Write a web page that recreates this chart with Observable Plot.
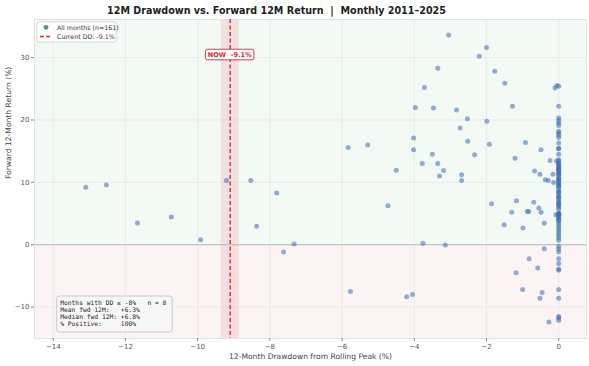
<!DOCTYPE html>
<html>
<head>
<meta charset="utf-8">
<script src="https://cdn.jsdelivr.net/npm/d3@7"></script>
<script src="https://cdn.jsdelivr.net/npm/@observablehq/plot@0.6"></script>
<style>
  html, body { margin: 0; padding: 0; background: #fff; }
  svg { font-family: "DejaVu Sans", sans-serif; }
</style>
</head>
<body>
<div id="chart"></div>
<script>
// ---- data ----
const offPeakDrawdown = [
  -13.10, -12.53, -11.67, -10.73, -9.92, -9.20, -8.53, -8.37, -7.81,
  -7.62, -7.33, -5.83, -5.29, -4.73, -4.50, -4.02, -4.02, -3.97, -5.77,
  -3.05, -2.00, -2.20, -1.77, -3.35, -1.49, -3.72, -3.47, -1.28, -2.83,
  -2.53, -1.99, -2.73, -2.52, -1.92, -0.92, -3.50, -2.33, -0.49, -3.78,
  -3.35, -3.19, -3.30, -2.69, -2.69, -1.21, -0.24, -0.67, -0.52, -0.16,
  -0.37, -0.29, -0.14,
  -1.86, -1.17, -0.69, -1.30, -0.87, -0.83, -0.55, -0.49, -1.51, -0.99,
  -0.40, -0.08, -3.76, -3.14, -0.40, -0.82, -0.58, -1.18, -1.00, -0.46,
  -0.52, -0.27, -4.21, -4.05,
  -0.05, -0.10, -0.06
];
const offPeakReturn = [
  9.2, 9.57, 3.47, 4.43, 0.80, 10.3, 10.27, 2.94, 8.28,
  -1.19, 0.1, 15.57, 16.0, 6.26, 11.93, 17.1, 15.2, 22.0, -7.5,
  33.6, 31.6, 30.2, 27.8, 28.3, 25.9, 25.2, 21.9, 22.2, 21.6,
  20.2, 19.8, 18.7, 16.6, 16.1, 16.4, 14.5, 14.4, 15.2, 13.0,
  13.0, 11.9, 11.0, 11.2, 10.3, 13.85, 13.5, 11.8, 11.3, 11.3,
  10.4, 10.3, 9.95,
  6.58, 7.06, 6.79, 5.18, 5.3, 5.3, 5.87, 5.18, 3.2, 2.66,
  3.42, 4.8, 0.21, -0.06, -0.64, -2.25, -3.75, -4.5, -7.2, -7.66,
  -8.6, -12.4, -8.35, -7.98,
  25.5, 25.1, 13.4
];
// months at the rolling peak (drawdown = 0)
const atPeakReturn = [
  25.4, 22.2, 20.3, 19.9, 19.5, 19.1, 18.2, 17.9, 17.6, 17.2, 16.3, 15.4, 15.4,
  14.5, 13.6, 13.4, 13.0, 13.0, 12.6, 12.6, 12.2, 12.2, 11.9, 11.9, 11.6,
  11.3, 11.3, 11.0, 10.6, 10.6, 10.3, 10.3, 9.9, 9.9, 9.5, 9.5, 9.2, 8.8,
  8.4, 8.4, 8.0, 7.6, 7.6, 7.3, 6.8, 6.8, 6.4, 6.4, 6.0, 5.7, 5.0, 5.0,
  4.9, 4.9, 4.7, 4.7, 4.3, 4.3, 3.9, 3.9, 3.5, 3.1, 2.7, 2.3, 1.9, 1.5,
  1.1, 0.7,
  -0.27, -0.7, -1.12, -2.25, -3.0, -3.9, -4.1, -7.2, -8.57, -11.5, -11.7, -12.1
];
const currentDD = -9.1;
const bandHalfWidth = 0.25;
const xTicks = [-14, -12, -10, -8, -6, -4, -2, 0];
const yTicks = [-10, 0, 10, 20, 30];
const titleText = "12M Drawdown vs. Forward 12M Return  |  Monthly 2011\u20132025";
const legendLabels = ["All months (n=161)", "Current DD: -9.1%"];
const statsLines = [
  "Months with DD \u2264 -8%   n = 8",
  "Mean fwd 12M:   +6.3%",
  "Median fwd 12M: +6.8%",
  "% Positive:     100%"
];

// ---- build table ----
const points = [
  ...offPeakDrawdown.map((d, i) => ({dd: d, fwd: offPeakReturn[i]})),
  ...atPeakReturn.map(r => ({dd: 0, fwd: r}))
];

const X_DOMAIN = [-14.52, 0.77];
const Y_DOMAIN = [-15.04, 36.1];
const RED = "#d62839";
const BLUE = "#3d6db0";

// legend box (pixel space, anchored to frame top-left)
function legendMark(index, scales, values, dims) {
  const g = d3.create("svg:g").attr("text-anchor", "start");
  const x0 = dims.marginLeft + 3, y0 = dims.marginTop + 3;
  g.append("rect").attr("x", x0).attr("y", y0).attr("width", 79).attr("height", 20)
    .attr("rx", 2).attr("fill", "white").attr("fill-opacity", 0.85)
    .attr("stroke", "#d0d0d0").attr("stroke-width", 0.8);
  g.append("circle").attr("cx", x0 + 9).attr("cy", y0 + 5.3).attr("r", 2.4)
    .attr("fill", BLUE).attr("fill-opacity", 0.85);
  g.append("line").attr("x1", x0 + 3).attr("x2", x0 + 15).attr("y1", y0 + 14.5).attr("y2", y0 + 14.5)
    .attr("stroke", RED).attr("stroke-width", 1.4).attr("stroke-dasharray", "4,2");
  legendLabels.forEach((t, i) => {
    g.append("text").attr("x", x0 + 20).attr("y", y0 + 5.3 + i * 9.2).attr("dy", "0.35em")
      .attr("text-anchor", "start")
      .attr("font-size", 6.3).attr("fill", "#333").text(t);
  });
  return g.node();
}

// stats box (pixel space, anchored to frame bottom-left)
function statsMark(index, scales, values, dims) {
  const g = d3.create("svg:g").attr("text-anchor", "start");
  const bottom = dims.height - dims.marginBottom;
  const x0 = dims.marginLeft + 22.7, y0 = bottom - 42;
  g.append("rect").attr("x", x0).attr("y", y0).attr("width", 115.5).attr("height", 36)
    .attr("rx", 3).attr("fill", "#f7f7f7").attr("fill-opacity", 0.9)
    .attr("stroke", "#bbbbbb").attr("stroke-width", 0.8);
  statsLines.forEach((t, i) => {
    g.append("text").attr("x", x0 + 3.5).attr("y", y0 + 6.8 + i * 7.0).attr("dy", "0.35em")
      .attr("text-anchor", "start")
      .attr("font-family", "'DejaVu Sans Mono', monospace").attr("font-size", 6.3)
      .attr("fill", "#222").attr("xml:space", "preserve").style("white-space", "pre").text(t);
  });
  return g.node();
}

// NOW label at the current drawdown
function nowMark(index, scales) {
  const g = d3.create("svg:g");
  const cx = scales.x(currentDD), cy = scales.y(30.4);
  g.append("rect").attr("x", cx - 24.2).attr("y", cy - 5.3).attr("width", 48.4).attr("height", 10.6)
    .attr("rx", 2).attr("fill", "white").attr("stroke", RED).attr("stroke-width", 0.9);
  g.append("text").attr("x", cx).attr("y", cy).attr("dy", "0.35em").attr("text-anchor", "middle")
    .attr("font-size", 6.6).attr("font-weight", "bold").attr("fill", RED)
    .attr("xml:space", "preserve").style("white-space", "pre").text("NOW  -9.1%");
  return g.node();
}

const chart = Plot.plot({
  width: 589,
  height: 366,
  marginLeft: 34,
  marginRight: 3,
  marginTop: 19,
  marginBottom: 28,
  style: {fontFamily: "DejaVu Sans, sans-serif", background: "white", overflow: "visible"},
  x: {domain: X_DOMAIN, ticks: xTicks, label: null},
  y: {domain: Y_DOMAIN, ticks: yTicks, label: null},
  marks: [
    // background regions
    Plot.rect([{y1: 0, y2: Y_DOMAIN[1]}], {x1: X_DOMAIN[0], x2: X_DOMAIN[1], y1: "y1", y2: "y2", fill: "#f3f9f4"}),
    Plot.rect([{y1: Y_DOMAIN[0], y2: 0}], {x1: X_DOMAIN[0], x2: X_DOMAIN[1], y1: "y1", y2: "y2", fill: "#fcf4f4"}),
    // grid
    Plot.gridX(xTicks, {stroke: "#e4e8e4", strokeOpacity: 1, strokeWidth: 0.8}),
    Plot.gridY(yTicks, {stroke: "#e4e8e4", strokeOpacity: 1, strokeWidth: 0.8}),
    // current drawdown band
    Plot.rect([currentDD], {x1: d => d - bandHalfWidth, x2: d => d + bandHalfWidth, y1: Y_DOMAIN[0], y2: Y_DOMAIN[1], fill: "#eba9b0", fillOpacity: 0.3}),
    // zero line
    Plot.ruleY([0], {stroke: "#b8b8b8", strokeWidth: 1.1}),
    // frame
    Plot.frame({stroke: "#dddddd", strokeWidth: 0.8}),
    // points
    Plot.dot(points, {x: "dd", y: "fwd", r: 2.5, fill: BLUE, fillOpacity: 0.55, stroke: "none"}),
    // current drawdown line
    Plot.ruleX([currentDD], {stroke: RED, strokeWidth: 1.4, strokeDasharray: "4,2.5"}),
    nowMark,
    legendMark,
    statsMark,
    // axes
    Plot.axisX(xTicks, {tickSize: 3, tickPadding: 3, fontSize: 7, fill: "#555", stroke: "#888", label: null}),
    Plot.axisY(yTicks, {tickSize: 3, tickPadding: 2, fontSize: 7, fill: "#555", stroke: "#888", label: null}),
    // titles
    Plot.text([titleText], {frameAnchor: "top-left", dx: 242, dy: -12, text: d => d, fontSize: 9.6, fontWeight: "bold", fill: "#222", textAnchor: "middle"}),
    Plot.text(["12-Month Drawdown from Rolling Peak (%)"], {frameAnchor: "bottom", dy: 20, text: d => d, fontSize: 7.6, fill: "#444"}),
    Plot.text(["Forward 12-Month Return (%)"], {frameAnchor: "left", dx: -26, text: d => d, fontSize: 7.6, fill: "#444", rotate: -90})
  ]
});
document.getElementById("chart").appendChild(chart);
</script>
</body>
</html>
